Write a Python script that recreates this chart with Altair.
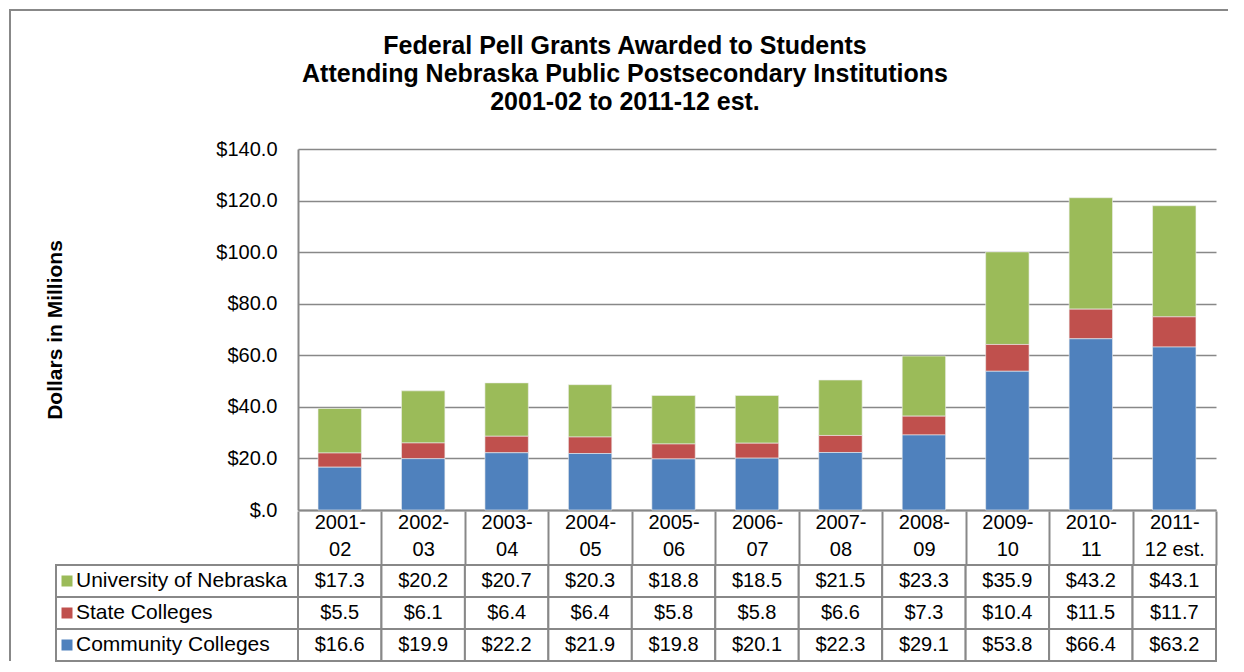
import altair as alt
import pandas as pd

# ---------------- data ----------------
years = ["2001-02", "2002-03", "2003-04", "2004-05", "2005-06", "2006-07",
         "2007-08", "2008-09", "2009-10", "2010-11", "2011-12 est."]
series = ["University of Nebraska", "State Colleges", "Community Colleges"]
unl = [17.3, 20.2, 20.7, 20.3, 18.8, 18.5, 21.5, 23.3, 35.9, 43.2, 43.1]
state = [5.5, 6.1, 6.4, 6.4, 5.8, 5.8, 6.6, 7.3, 10.4, 11.5, 11.7]
cc = [16.6, 19.9, 22.2, 21.9, 19.8, 20.1, 22.3, 29.1, 53.8, 66.4, 63.2]
colors = ["#9BBB59", "#C0504D", "#4F81BD"]
stack_order = [2, 1, 0]  # community colleges at the bottom
y_ticks = [0, 20, 40, 60, 80, 100, 120, 140]
title_lines = ["Federal Pell Grants Awarded to Students",
               "Attending Nebraska Public Postsecondary Institutions",
               "2001-02 to 2011-12 est."]
y_title = "Dollars in Millions"

rows = []
for name, vals, order in zip(series, [unl, state, cc], stack_order):
    for yr, v in zip(years, vals):
        rows.append({"year": yr, "series": name, "value": v, "stack": order})
df = pd.DataFrame(rows)

# ---------------- style ----------------
FONT = "Liberation Sans"
GRID = "#888888"
W, H, HDR, ROW = 918, 361, 54, 32
TOP = 140  # distance from frame line to plot top

color_scale = alt.Scale(domain=series, range=colors)

# ---------------- bar chart ----------------
x_bar = alt.X(
    "year:N", sort=years,
    scale=alt.Scale(paddingInner=0.48, paddingOuter=0.24),
    axis=alt.Axis(title=None, orient="bottom", domainColor=GRID, domainWidth=2,
                  labels=False, ticks=False),
)

bars = alt.Chart(df).mark_bar(stroke="#eeeeee", strokeWidth=0.6).encode(
    x=x_bar,
    y=alt.Y(
        "value:Q", stack="zero",
        scale=alt.Scale(domain=[0, 140], nice=False),
        axis=alt.Axis(
            values=y_ticks, title=y_title, titleFont=FONT, titleFontSize=21,
            titleFontWeight="bold", titleColor="black", titleX=-243, titleY=H / 2,
            titleAlign="center", titleBaseline="middle",
            labelFont=FONT, labelFontSize=20, labelColor="black", labelPadding=21,
            ticks=False, domainColor=GRID, domainWidth=2,
            gridColor=GRID, gridWidth=1.5,
            labelExpr="datum.value == 0 ? '$.0' : '$' + format(datum.value, '.1f')",
        ),
    ),
    color=alt.Color("series:N", scale=color_scale, legend=None),
    order=alt.Order("stack:Q", sort="ascending"),
)

title_df = pd.DataFrame({"t": ["\n".join(title_lines)]})
title = alt.Chart(title_df).mark_text(
    font=FONT, fontSize=25, fontWeight="bold", lineBreak="\n", lineHeight=28,
    align="center", baseline="middle", color="black",
).encode(text="t:N", x=alt.value(327), y=alt.value(-(TOP - 37)))

frame_df = pd.DataFrame({"k": [0]})
frame_left = alt.Chart(frame_df).mark_rule(color=GRID, strokeWidth=2).encode(
    x=alt.value(-288), y=alt.value(-TOP), y2=alt.value(H))
frame_top = alt.Chart(frame_df).mark_rule(color=GRID, strokeWidth=2).encode(
    x=alt.value(-289), x2=alt.value(930), y=alt.value(-(TOP - 1)))

top = alt.layer(bars, title, frame_left, frame_top).properties(width=W, height=H)

# ---------------- data table (header row = top axis) ----------------
x_tab = alt.X(
    "year:N", sort=years,
    scale=alt.Scale(paddingInner=0, paddingOuter=0),
    axis=alt.Axis(
        title=None, orient="top", domain=False,
        tickBand="extent", tickSize=HDR, tickColor=GRID, tickWidth=2,
        labelAngle=0, labelFont=FONT, labelFontSize=20, labelColor="black",
        labelBaseline="middle", labelLineHeight=27, labelPadding=43 - HDR,
        labelOverlap=False,
        labelExpr="[slice(datum.label, 0, 5), slice(datum.label, 5)]",
    ),
)
x_tab_plain = alt.X("year:N", sort=years,
                    scale=alt.Scale(paddingInner=0, paddingOuter=0))
y_tab = alt.Y("series:N", sort=series,
              scale=alt.Scale(paddingInner=0, paddingOuter=0), axis=None)

cells = alt.Chart(df).mark_rect(fill="white", stroke=GRID, strokeWidth=2).encode(
    x=x_tab, y=y_tab)
cell_text = alt.Chart(df).mark_text(font=FONT, fontSize=20, color="black").encode(
    x=x_tab_plain, y=y_tab, text=alt.Text("value:Q", format="$.1f"))

leg_df = pd.DataFrame({"series": series})
leg_cells = alt.Chart(leg_df).mark_rect(fill="white", stroke=GRID, strokeWidth=2).encode(
    x=alt.value(-242), x2=alt.value(0), y=y_tab)
leg_sq = alt.Chart(leg_df).mark_square(size=121, opacity=1).encode(
    x=alt.value(-231), y=y_tab,
    color=alt.Color("series:N", scale=color_scale, legend=None))
leg_text = alt.Chart(leg_df).mark_text(
    font=FONT, fontSize=21, color="black", align="left", baseline="middle").encode(
    x=alt.value(-222), y=y_tab, text="series:N")
frame_left2 = alt.Chart(frame_df).mark_rule(color=GRID, strokeWidth=2).encode(
    x=alt.value(-288), y=alt.value(-HDR - 4), y2=alt.value(3 * ROW))

table = alt.layer(cells, cell_text, leg_cells, leg_sq, leg_text, frame_left2).properties(
    width=W, height=3 * ROW)

chart = alt.vconcat(top, table, spacing=HDR + 1, bounds="flush").properties(
    padding={"left": 0, "top": 0, "right": 0, "bottom": 0}
).configure(font=FONT).configure_view(strokeWidth=0)

chart.save("out.html", embed_options={"renderer": "svg", "actions": False})
